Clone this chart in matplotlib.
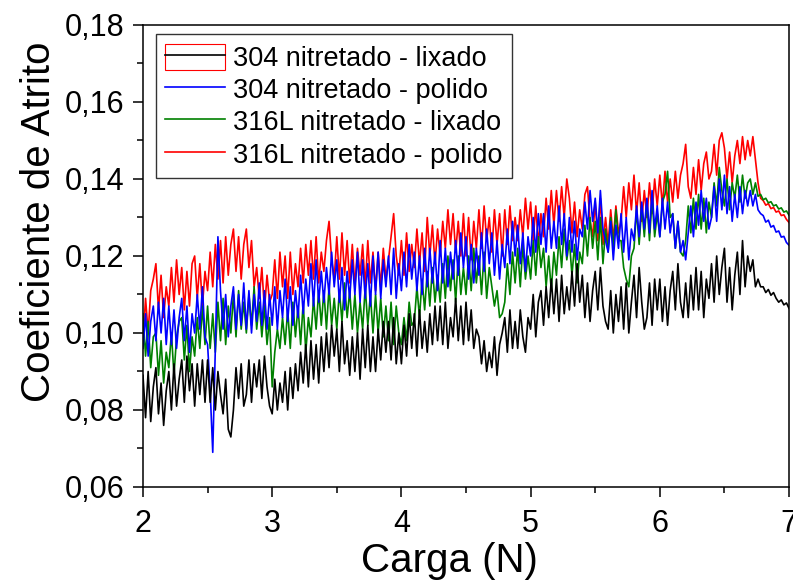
"""Coeficiente de atrito vs carga for nitrided 304 / 316L steels (scratch test)."""

import matplotlib
matplotlib.use("Agg")
import matplotlib.pyplot as plt
import numpy as np
from matplotlib.legend_handler import HandlerTuple
from matplotlib.lines import Line2D
from matplotlib.patches import Rectangle
from matplotlib.ticker import FuncFormatter, MultipleLocator

# sampling grid of the traces (Carga, N)
X_START = 2.0
X_STEP = 0.02

# friction coefficient, in thousandths
black_304_lixado = [
    89, 78, 90, 77, 86, 91, 79, 87, 76, 85, 90, 80, 92, 81, 88, 93, 82, 94, 85, 92, 81, 92, 84, 93, 82,
    93, 82, 91, 80, 90, 84, 79, 88, 75, 73, 80, 91, 83, 92, 81, 84, 93, 82, 92, 86, 93, 83, 94, 86, 81,
    79, 88, 80, 87, 82, 90, 80, 91, 83, 92, 85, 95, 87, 97, 86, 98, 88, 97, 87, 99, 90, 100, 91, 102, 94,
    101, 90, 103, 92, 98, 89, 99, 90, 100, 88, 101, 91, 102, 90, 99, 90, 101, 93, 103, 95, 103, 93, 104, 92, 100,
    92, 102, 94, 105, 96, 105, 94, 106, 96, 103, 95, 105, 97, 107, 98, 107, 97, 108, 96, 104, 99, 109, 98, 107, 97,
    108, 98, 106, 96, 101, 99, 92, 98, 90, 95, 91, 99, 89, 97, 100, 104, 95, 106, 96, 103, 96, 106, 99, 95, 104,
    101, 110, 99, 108, 111, 102, 112, 104, 114, 105, 114, 103, 115, 105, 112, 106, 116, 107, 118, 108, 115, 104, 113, 103, 111,
    116, 106, 117, 107, 103, 101, 111, 100, 110, 103, 112, 101, 113, 100, 108, 115, 104, 117, 108, 101, 104, 113, 102, 114, 106,
    114, 103, 112, 102, 111, 116, 106, 118, 108, 104, 113, 104, 115, 106, 117, 106, 116, 104, 114, 109, 118, 108, 120, 110, 117,
    122, 108, 117, 106, 115, 121, 110, 124, 112, 120, 116, 119, 112, 114, 112, 112, 110.5, 111.3, 109.8, 110.5, 109, 108, 108.6, 107.3, 107.8,
    106.4,
]
blue_304_polido = [
    96, 105, 94, 103, 107, 98, 108, 100, 109, 97, 107, 97, 106, 96, 104, 109, 98, 107, 95, 105, 100, 110, 101, 112, 99,
    97, 85, 69, 96, 125, 111, 101, 110, 99, 107, 112, 101, 110, 102, 113, 101, 111, 100, 110, 103, 113, 102, 111, 101, 110,
    102, 112, 101, 111, 104, 114, 103, 112, 102, 111, 104, 115, 105, 114, 107, 118, 107, 119, 108, 116, 108, 117, 110, 121, 112,
    119, 108, 117, 106, 116, 109, 119, 110, 121, 108, 119, 109, 118, 107, 120, 110, 121, 109, 119, 112, 120, 110, 122, 109, 118,
    111, 121, 112, 123, 114, 121, 111, 120, 110, 122, 112, 122, 113, 121, 111, 124, 113, 122, 112, 121, 114, 124, 115, 126, 117,
    125, 114, 123, 113, 122, 115, 126, 116, 127, 118, 126, 115, 124, 114, 123, 117, 127, 118, 129, 120, 128, 118, 126, 116, 125,
    120, 130, 121, 131, 123, 131, 121, 133, 122, 129, 122, 133, 123, 131, 120, 130, 121, 129, 119, 127, 125, 134, 127, 137, 129,
    135, 126, 137, 127, 124, 121, 129, 119, 128, 122, 131, 121, 130, 119, 127, 124, 133, 125, 134, 127, 135, 126, 137, 127, 133,
    125, 135, 127, 134, 126, 131, 122, 129, 121, 124, 119, 126, 133, 125, 134, 128, 137, 129, 135, 127, 130, 138, 129, 140, 132,
    141, 131, 138, 129, 136, 130, 138, 131, 137, 133, 137, 133, 136, 132, 131, 130.5, 128.8, 129.3, 127.5, 127.9, 126.2, 126.5, 124.9, 125.1, 123.5,
    122.8,
]
green_316l_lixado = [
    105, 94, 103, 91, 99, 100, 89, 98, 87, 95, 91, 100, 89, 99, 103, 104, 93, 102, 90, 99, 94, 104, 96, 107, 97,
    107, 96, 105, 95, 108, 98, 109, 97, 107, 100, 110, 99, 111, 101, 108, 100, 110, 102, 112, 101, 108, 99, 107, 97, 104,
    86, 95, 101, 96, 104, 97, 106, 96, 108, 99, 107, 97, 108, 95, 104, 99, 109, 101, 111, 102, 111, 101, 112, 102, 109,
    101, 111, 103, 113, 104, 111, 101, 110, 100, 108, 101, 112, 102, 110, 100, 110, 100, 109, 99, 107, 98, 108, 97, 107, 100,
    97, 104, 98, 108, 102, 103, 112, 104, 114, 106, 116, 107, 117, 108, 115, 108, 118, 109, 120, 111, 119, 108, 120, 110, 117,
    110, 120, 111, 122, 113, 120, 110, 121, 109, 117, 112, 107, 111, 104, 105, 108, 118, 110, 121, 113, 122, 112, 123, 114, 120,
    114, 124, 115, 125, 117, 122, 112, 120, 111, 121, 115, 125, 117, 127, 119, 124, 115, 123, 113, 121, 118, 128, 120, 130, 122,
    129, 119, 130, 118, 127, 121, 130, 122, 132, 124, 124, 117, 114, 112, 120, 122, 132, 123, 133, 125, 134, 124, 135, 125, 131,
    125, 134, 136, 142, 130, 131, 122, 129, 121, 120, 124, 133, 126, 135, 127, 136, 127, 135, 126, 134, 130, 139, 133, 143, 137,
    133, 140, 132, 139, 135, 141, 134, 141, 135, 139, 140, 136, 139, 135.5, 136, 134.6, 135.0, 133.8, 134.1, 133.0, 133.3, 132.2, 132.5, 131.4, 131.7,
    130.6,
]
red_316l_polido = [
    98, 109, 100, 111, 114, 118, 106, 115, 104, 112, 107, 117, 108, 119, 110, 117, 106, 116, 107, 118, 120, 109, 118, 107, 116,
    111, 121, 112, 123, 114, 124, 113, 125, 115, 123, 127, 116, 125, 114, 123, 127, 117, 124, 112, 117, 109, 117, 106, 115, 108,
    110, 119, 109, 121, 112, 120, 109, 121, 110, 118, 112, 122, 113, 123, 115, 124, 114, 125, 113, 121, 116, 124, 129, 119, 114,
    125, 114, 126, 115, 124, 113, 123, 112, 122, 115, 123, 112, 124, 113, 121, 111, 121, 112, 122, 114, 119, 125, 131, 120, 115,
    124, 115, 126, 116, 123, 117, 127, 118, 126, 116, 130, 120, 128, 118, 127, 120, 129, 122, 132, 123, 131, 121, 129, 120, 131,
    120, 130, 119, 129, 122, 132, 122, 133, 124, 130, 121, 132, 123, 131, 120, 132, 123, 133, 124, 130, 124, 132, 125, 135, 127,
    134, 124, 133, 123, 131, 125, 135, 127, 137, 128, 137, 129, 138, 130, 140, 135, 126, 134, 125, 132, 127, 136, 138, 129, 125,
    134, 124, 135, 123, 130, 123, 132, 124, 133, 126, 129, 138, 130, 139, 132, 141, 131, 139, 129, 137, 130, 139, 131, 140, 133,
    141, 133, 142, 134, 140, 134, 142, 135, 141, 144, 149, 138, 135, 143, 136, 145, 137, 144, 147, 140, 142, 149, 141, 150, 152,
    148, 140, 147, 139, 146, 150, 144, 151, 145, 150, 146, 151, 145, 139, 135, 134.4, 133.2, 133.6, 132.3, 132.6, 131.4, 131.7, 130.5, 130.7, 129.5,
    128.7,
]

labels = [
    "304 nitretado - lixado",
    "304 nitretado - polido",
    "316L nitretado - lixado",
    "316L nitretado - polido",
]
colors = ["black", "#0000ff", "#008000", "#ff0000"]
series = [black_304_lixado, blue_304_polido, green_316l_lixado, red_316l_polido]

plt.rcParams["font.family"] = ["Liberation Sans", "DejaVu Sans"]


def comma_fmt(v, _pos):
    return f"{v:.2f}".replace(".", ",")


fig = plt.figure(figsize=(7.93, 5.81), dpi=100)
ax = fig.add_axes([0.1803, 0.1618, 0.8147, 0.7952])

# legend order is black, blue, green, red; draw red first so black ends on top
for vals, c in reversed(list(zip(series, colors))):
    y = np.array(vals) / 1000.0
    x = X_START + X_STEP * np.arange(len(y))
    ax.plot(x, y, color=c, lw=1.2)

ax.set_xlim(2, 7)
ax.set_ylim(0.06, 0.18)
ax.xaxis.set_major_locator(MultipleLocator(1))
ax.xaxis.set_minor_locator(MultipleLocator(0.5))
ax.yaxis.set_major_locator(MultipleLocator(0.02))
ax.yaxis.set_minor_locator(MultipleLocator(0.01))
ax.yaxis.set_major_formatter(FuncFormatter(comma_fmt))
ax.tick_params(which="major", direction="out", length=7.5, width=1.1,
               labelsize=22, pad=6, top=False, right=False)
ax.tick_params(which="minor", direction="out", length=4, width=1.1,
               top=False, right=False)
ax.tick_params(axis="x", which="major", pad=8)
for sp in ax.spines.values():
    sp.set_linewidth(1.1)

ax.set_xlabel("Carga (N)", fontsize=29)
ax.set_ylabel("Coeficiente de Atrito", fontsize=29)
ax.xaxis.set_label_coords(0.475, -0.12)
ax.yaxis.set_label_coords(-0.132, 0.574)

# first legend entry in the original has a red box around the black line
h_first = (Rectangle((0, 0), 1, 1, facecolor="white", edgecolor="#ff0000", lw=0.8),
           Line2D([], [], color="black", lw=1.2))
handles = [h_first] + [Line2D([], [], color=c, lw=1.2) for c in colors[1:]]
leg = ax.legend(handles, labels, loc="upper left", bbox_to_anchor=(0.02, 0.98),
                borderaxespad=0, fontsize=19.5, frameon=True, fancybox=False,
                edgecolor="#333333", framealpha=1, handlelength=2.2,
                handleheight=1.1, handletextpad=0.3, labelspacing=0.15,
                borderpad=0.35, handler_map={tuple: HandlerTuple(ndivide=1, pad=0)})
leg.get_frame().set_linewidth(1.0)

for s in series:
    assert len(s) == 251, len(s)

fig.savefig("out.png", dpi=100)
